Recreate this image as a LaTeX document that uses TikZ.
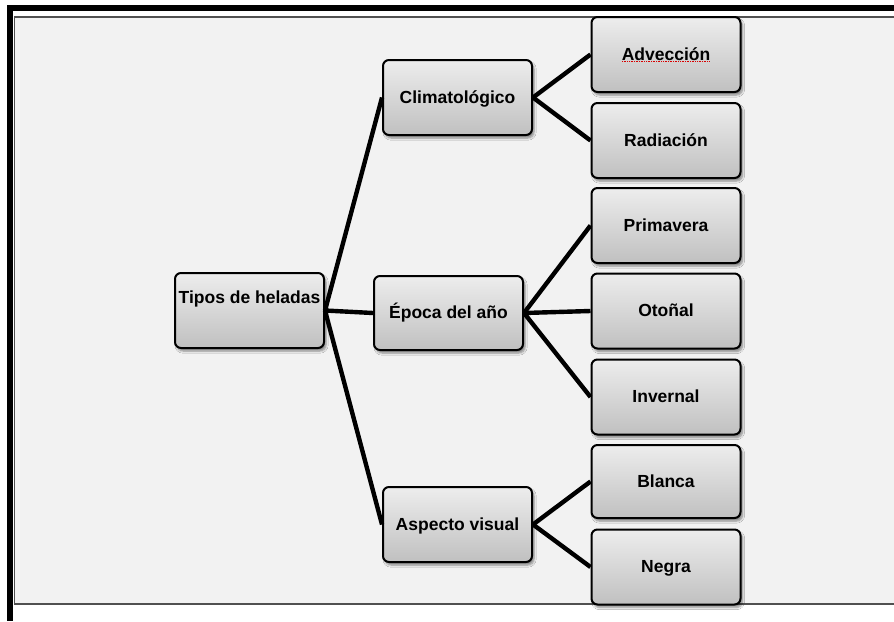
\documentclass[tikz,border=0pt]{standalone}
\usepackage{fontspec}
\setmainfont{Liberation Sans}
\usetikzlibrary{shadows.blur}
\definecolor{panel}{HTML}{F2F2F2}
\definecolor{panelline}{HTML}{505050}
\definecolor{boxtop}{HTML}{EDEDED}
\definecolor{boxbot}{HTML}{C0C0C0}
\tikzset{
  box/.style={draw=black, line width=2pt, rounded corners=6pt,
    top color=boxtop, bottom color=boxbot,
    blur shadow={shadow xshift=2pt, shadow yshift=-3pt, shadow blur steps=6, shadow opacity=45},
    minimum width=149pt, minimum height=75pt, inner sep=0pt,
    text height=11pt, text depth=0pt,
    font=\fontsize{17.5pt}{20pt}\selectfont\bfseries, text=black},
  link/.style={line width=4.4pt, black}
}
\begin{document}
\begin{tikzpicture}[x=1pt, y=-1pt]
  \useasboundingbox (0,0) rectangle (894,621);
  \fill[white] (0,0) rectangle (894,621);
  % frame
  \fill[panel] (14,17) rectangle (894,604);
  \draw[panelline, line width=1.2pt] (894,17) -- (14.5,17) -- (14.5,604) -- (894,604);
  \fill[black] (7,5) rectangle (894,11);
  \fill[black] (7,5) rectangle (13,621);

  % boxes
  \node[box, text height=0pt, text depth=14pt] (tipos) at (249.5,310.5) {Tipos de heladas};
  \node[box] (clima)   at (457.5,97.5)  {Climatológico};
  \node[box, minimum height=74pt] (epoca) at (448.5,313) {Época del año};
  \node[box] (aspecto) at (457.5,524.5) {Aspecto visual};

  \node[box] (advec)  at (666,54.5)  {Advección};
  \node[box] (radia)  at (666,140.5) {Radiación};
  \node[box] (prima)  at (666,225.5) {Primavera};
  \node[box] (otonal) at (666,311)   {Otoñal};
  \node[box] (invern) at (666,397)   {Invernal};
  \node[box, minimum height=73pt] (blanca) at (666,481.5) {Blanca};
  \node[box] (negra)  at (666,567)   {Negra};

  % spell-check squiggle under Advección
  \draw[red!85!black, line width=0.7pt, densely dotted] (622,61.5) -- (709,61.5);

  % connectors
  \draw[link] (tipos.east) -- (clima.west);
  \draw[link] (tipos.east) -- (epoca.west);
  \draw[link] (tipos.east) -- (aspecto.west);
  \draw[link] (clima.east) -- (advec.west);
  \draw[link] (clima.east) -- (radia.west);
  \draw[link] (epoca.east) -- (prima.west);
  \draw[link] (epoca.east) -- (otonal.west);
  \draw[link] (epoca.east) -- (invern.west);
  \draw[link] (aspecto.east) -- (blanca.west);
  \draw[link] (aspecto.east) -- (negra.west);
\end{tikzpicture}
\end{document}
